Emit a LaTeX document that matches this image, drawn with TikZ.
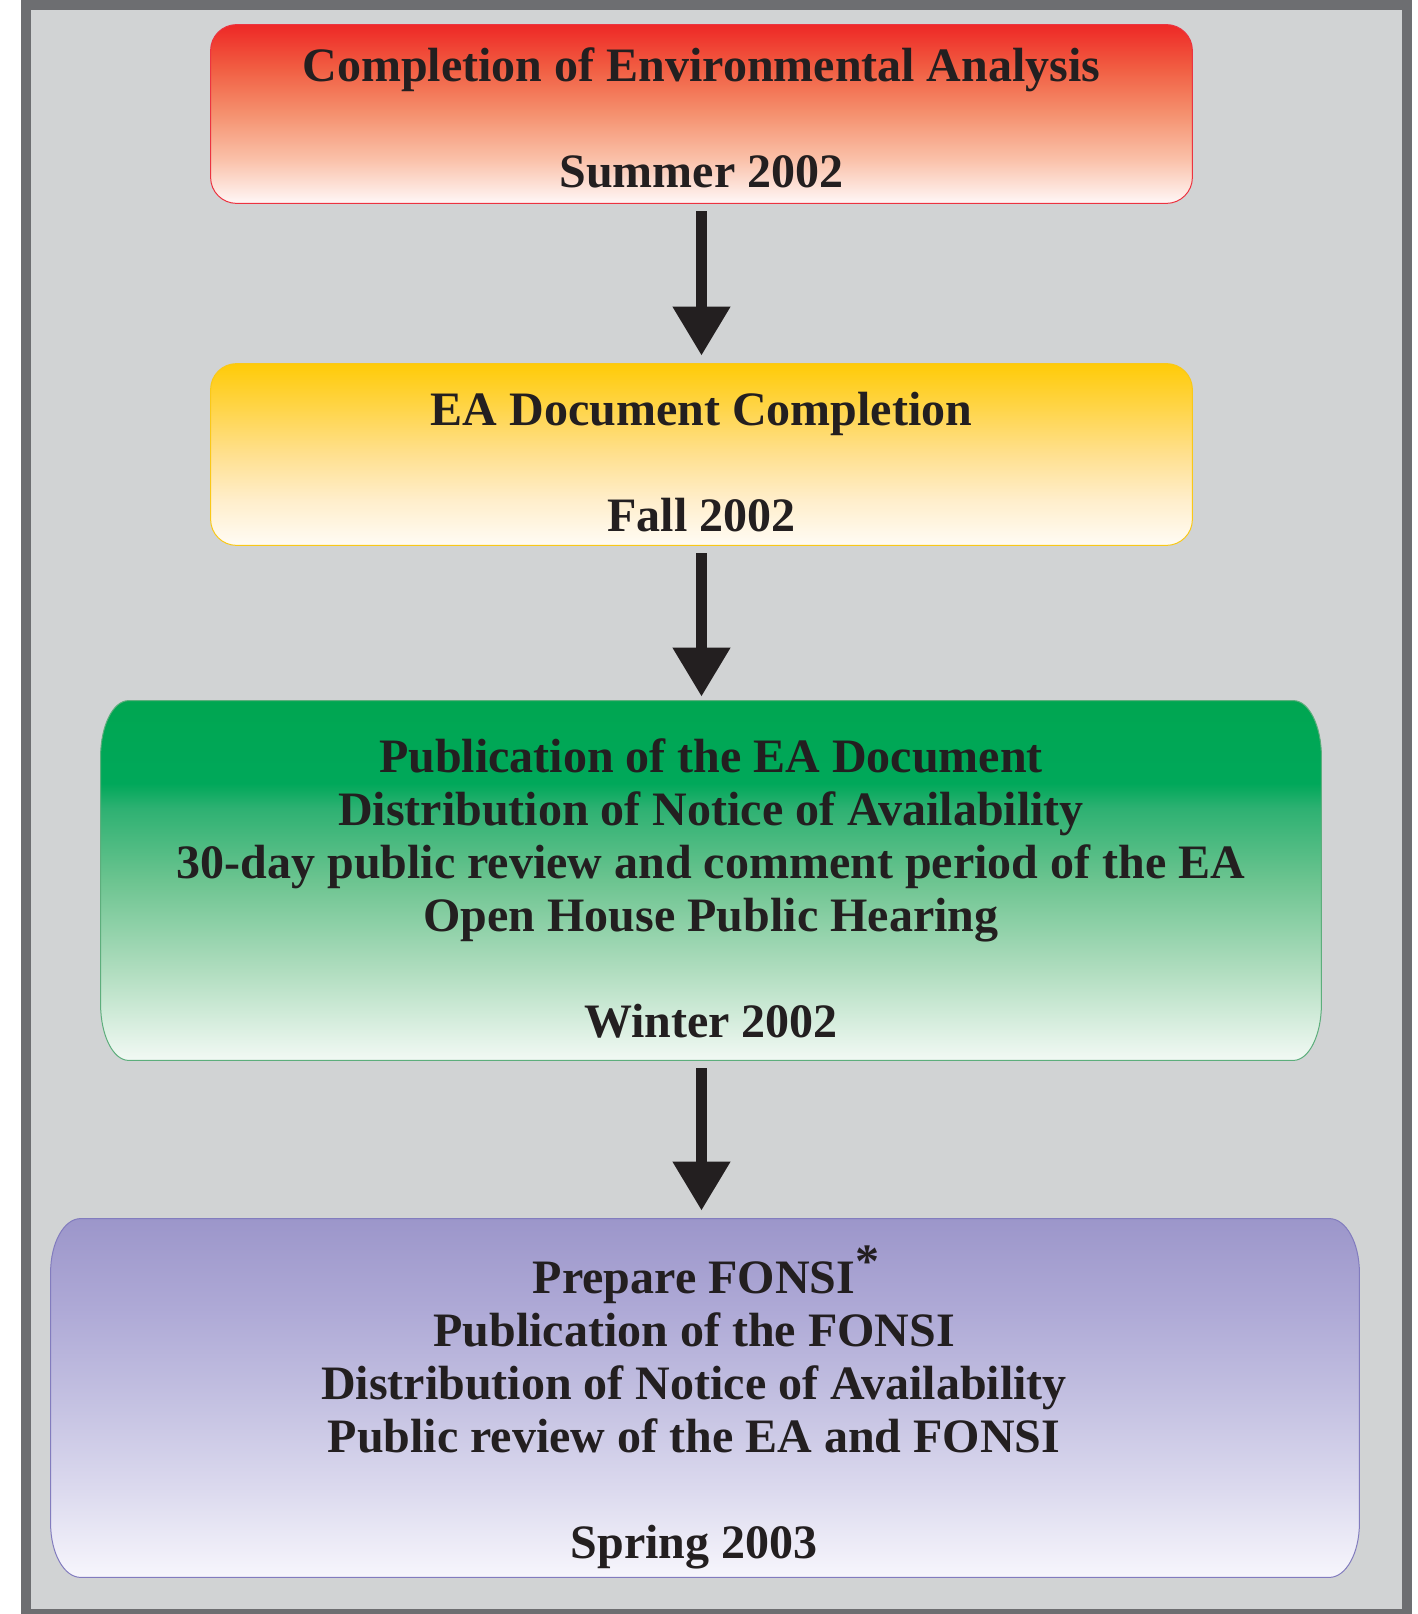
\documentclass[tikz,border=0pt]{standalone}
\usepackage{fontspec}
\setmainfont{Liberation Serif}
\usetikzlibrary{arrows.meta, backgrounds}
\definecolor{ink}{HTML}{231F20}
\definecolor{framegray}{HTML}{6D6E71}
\definecolor{panel}{HTML}{D1D3D4}
\definecolor{redline}{HTML}{EC3340}
\definecolor{yellowline}{HTML}{F9C818}
\definecolor{greenline}{HTML}{5DAE7C}
\definecolor{purpleline}{HTML}{827CBE}

% vertical fades, bottom colour first
\pgfdeclareverticalshading{redfade}{100bp}{color(0bp)=(white!97!red); color(25bp)=(white!97!red);
  color(37.5bp)=(rgb,255:red,250;green,192;blue,168); color(50bp)=(rgb,255:red,245;green,145;blue,111);
  color(62.5bp)=(rgb,255:red,241;green,95;blue,67); color(75bp)=(rgb,255:red,238;green,40;blue,38);
  color(100bp)=(rgb,255:red,238;green,40;blue,38)}
\pgfdeclareverticalshading{yellowfade}{100bp}{color(0bp)=(rgb,255:red,255;green,252;blue,245); color(25bp)=(rgb,255:red,255;green,252;blue,245);
  color(37.5bp)=(rgb,255:red,255;green,238;blue,203); color(50bp)=(rgb,255:red,255;green,224;blue,143);
  color(62.5bp)=(rgb,255:red,255;green,213;blue,74); color(75bp)=(rgb,255:red,255;green,203;blue,8);
  color(100bp)=(rgb,255:red,255;green,203;blue,8)}
\pgfdeclareverticalshading{greenfade}{100bp}{color(0bp)=(rgb,255:red,242;green,249;blue,244); color(25bp)=(rgb,255:red,242;green,249;blue,244);
  color(37.5bp)=(rgb,255:red,176;green,221;blue,191); color(50bp)=(rgb,255:red,108;green,196;blue,144);
  color(60bp)=(rgb,255:red,46;green,177;blue,114); color(63.5bp)=(rgb,255:red,0;green,168;blue,90);
  color(75bp)=(rgb,255:red,0;green,166;blue,81); color(100bp)=(rgb,255:red,0;green,166;blue,81)}
\pgfdeclareverticalshading{purplefade}{100bp}{color(0bp)=(rgb,255:red,247;green,246;blue,252); color(25bp)=(rgb,255:red,247;green,246;blue,252);
  color(37.5bp)=(rgb,255:red,219;green,217;blue,238); color(50bp)=(rgb,255:red,195;green,192;blue,225);
  color(62.5bp)=(rgb,255:red,174;green,169;blue,214); color(75bp)=(rgb,255:red,156;green,150;blue,202);
  color(100bp)=(rgb,255:red,156;green,150;blue,202)}

% box outline round a node: node, x radius, y radius, style
\newcommand{\stagebg}[4]{%
  \path[#4] ([xshift=#2]#1.south west) -- ([xshift=-#2]#1.south east)
    arc[start angle=270, end angle=360, x radius=#2, y radius=#3]
    -- ([yshift=-#3]#1.north east)
    arc[start angle=0, end angle=90, x radius=#2, y radius=#3]
    -- ([xshift=#2]#1.north west)
    arc[start angle=90, end angle=180, x radius=#2, y radius=#3]
    -- ([yshift=#3]#1.south west)
    arc[start angle=180, end angle=270, x radius=#2, y radius=#3] -- cycle;}

\tikzset{
  stage/.style={rectangle, inner sep=0pt},
  stagetext/.style={align=center, inner sep=0pt, text=ink,
    font=\fontsize{24}{26.5}\selectfont\bfseries},
  flow/.style={draw=ink, line width=5.5pt, -{Triangle[width=27.5pt,length=24.5pt]},
    shorten <=4pt, shorten >=4pt}
}

\begin{document}
\begin{tikzpicture}[x=1pt, y=1pt]
  \useasboundingbox (0,0) rectangle (709,807);
  % frame
  \begin{scope}[on background layer]
    \fill[framegray] (10.5,0) rectangle (706,807);
    \fill[panel] (15.5,2.5) rectangle (701,802);
  \end{scope}

  % stages
  \node[stage, minimum width=490.5pt, minimum height=89pt] (analysis) at (350.75,750) {};
  \node[stage, minimum width=490.5pt, minimum height=90.5pt] (document) at (350.75,579.75) {};
  \node[stage, minimum width=610pt, minimum height=179.5pt] (publication) at (355.5,366.75) {};
  \node[stage, minimum width=654pt, minimum height=179pt] (fonsi) at (352.5,108) {};

  \node[stagetext] (analysis text) at ([yshift=-2pt]analysis.center)
    {Completion of Environmental Analysis\\[26.5pt]Summer 2002};
  \node[stagetext] (document text) at ([yshift=-4pt]document.center)
    {EA Document Completion\\[26.5pt]Fall 2002};
  \node[stagetext] (publication text) at ([yshift=-4pt]publication.center)
    {Publication of the EA Document\\Distribution of Notice of Availability\\
     30-day public review and comment period of the EA\\Open House Public Hearing\\[26.5pt]Winter 2002};
  \node[stagetext] (fonsi text) at ([xshift=-5.5pt, yshift=-8.5pt]fonsi.center)
    {Prepare FONSI\rlap{\raisebox{8pt}[0pt][0pt]{*}}\\Publication of the FONSI\\Distribution of Notice of Availability\\
     Public review of the EA and FONSI\\[26.5pt]Spring 2003};

  \begin{scope}[on background layer]
    \stagebg{analysis}{13pt}{13pt}{shading=redfade, draw=redline, line width=0.5pt}
    \stagebg{document}{13pt}{13pt}{shading=yellowfade, draw=yellowline, line width=0.5pt}
    \stagebg{publication}{14pt}{28pt}{shading=greenfade, draw=greenline, line width=0.5pt}
    \stagebg{fonsi}{15pt}{27pt}{shading=purplefade, draw=purpleline, line width=0.5pt}
  \end{scope}

  % arrows
  \draw[flow] (analysis) -- (document);
  \draw[flow, shorten >=2pt] (document.south) -- (document.south |- publication.north);
  \draw[flow] (publication.south -| document.south) -- (fonsi.north -| document.south);
\end{tikzpicture}
\end{document}
